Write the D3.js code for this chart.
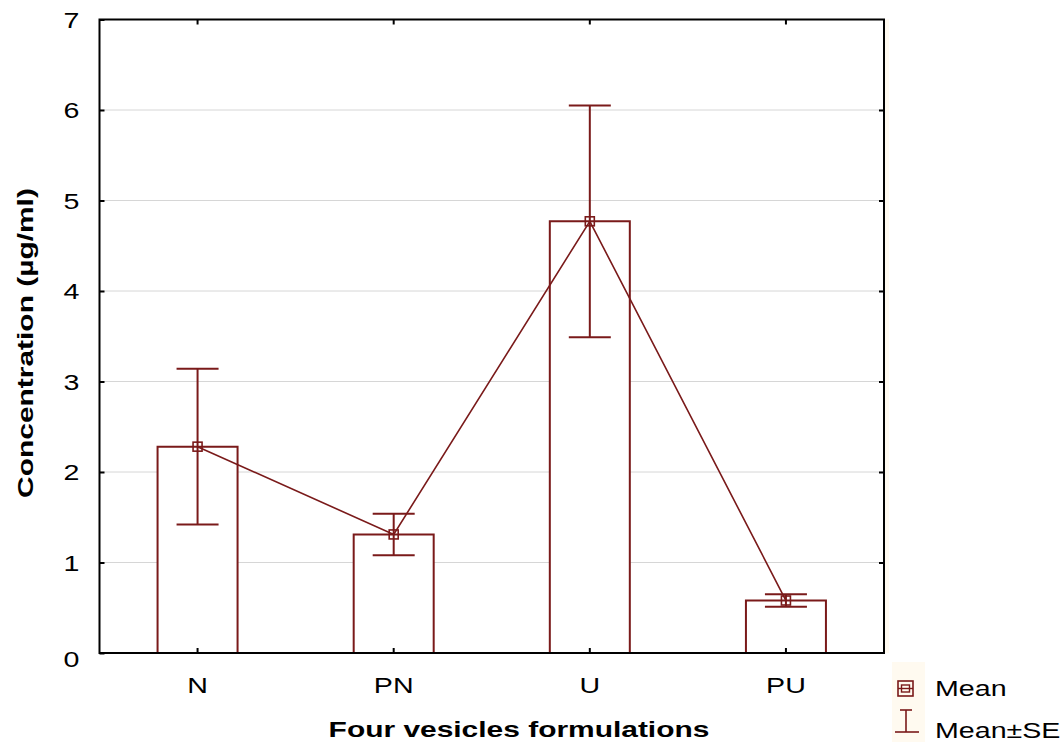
<!DOCTYPE html>
<html lang="en">
<head>
<meta charset="UTF-8">
<title>Four vesicles formulations</title>
<script src="https://d3js.org/d3.v7.min.js"></script>
<style>
  body { margin: 0; background: #fff; }
  svg text { font-family: "Liberation Sans", Arial, sans-serif; fill: #000; }
</style>
</head>
<body>
<svg id="chart" width="1064" height="742"></svg>
<script>
// data
const categories = ["N", "PN", "U", "PU"];
const means = [2.28, 1.31, 4.77, 0.58];
const se = [0.86, 0.23, 1.28, 0.07];
const yTicks = [0, 1, 2, 3, 4, 5, 6, 7];

const col = "#7a1a1a";
const svg = d3.select("#chart");
const plotL = 99.5, plotR = 884, plotT = 19.5, plotB = 653;
const fs = "22px";
const widen = 1.3; // the reference text is drawn wider than Arial

const x = d3.scaleBand().domain(categories).range([plotL, plotR]);
const y = d3.scaleLinear().domain([0, 7]).range([plotB, plotT]);
const cx = d => x(d) + x.bandwidth() / 2;
const barW = 80, capW = 42, mk = 9;

// grid
svg.append("g").selectAll("line").data(yTicks.filter(t => t > 0 && t < 7)).join("line")
  .attr("x1", plotL).attr("x2", plotR)
  .attr("y1", d => y(d)).attr("y2", d => y(d))
  .attr("stroke", "#d6d6d6").attr("stroke-width", 1);

// bars
svg.append("g").selectAll("path").data(categories).join("path")
  .attr("d", (d, i) => {
    const x0 = cx(d) - barW / 2, x1 = cx(d) + barW / 2;
    return `M${x0},${y(0)}V${y(means[i])}H${x1}V${y(0)}`;
  })
  .attr("fill", "#fff").attr("stroke", col).attr("stroke-width", 2);

// error bars
const eb = svg.append("g").attr("stroke", col).attr("stroke-width", 2).attr("fill", "none");
categories.forEach((c, i) => {
  const hi = y(means[i] + se[i]), lo = y(means[i] - se[i]);
  eb.append("line").attr("x1", cx(c)).attr("x2", cx(c)).attr("y1", hi).attr("y2", lo);
  eb.append("line").attr("x1", cx(c) - capW / 2).attr("x2", cx(c) + capW / 2).attr("y1", hi).attr("y2", hi);
  eb.append("line").attr("x1", cx(c) - capW / 2).attr("x2", cx(c) + capW / 2).attr("y1", lo).attr("y2", lo);
});

// mean line
svg.append("path")
  .datum(categories.map((c, i) => [cx(c), y(means[i])]))
  .attr("d", d3.line())
  .attr("fill", "none").attr("stroke", col).attr("stroke-width", 1.6);

// mean markers
svg.append("g").selectAll("rect").data(categories).join("rect")
  .attr("x", d => cx(d) - mk / 2)
  .attr("y", (d, i) => y(means[i]) - mk / 2)
  .attr("width", mk).attr("height", mk)
  .attr("fill", "none").attr("stroke", col).attr("stroke-width", 1.6);

// frame
svg.append("rect").attr("x", plotR + 1).attr("y", plotT).attr("width", 4).attr("height", plotB - plotT)
  .attr("fill", "#fffaf0");
svg.append("rect").attr("x", plotL).attr("y", plotT).attr("width", plotR - plotL).attr("height", plotB - plotT)
  .attr("fill", "none").attr("stroke", "#000").attr("stroke-width", 2);

// axes
const yAxis = svg.append("g").attr("transform", `translate(${plotL},0)`)
  .call(d3.axisLeft(y).tickValues(yTicks).tickFormat(d3.format("d"))
    .tickSizeInner(-5).tickSizeOuter(0).tickPadding(20));
yAxis.select(".domain").remove();
yAxis.selectAll("line").attr("stroke", "#000").attr("stroke-width", 2);
yAxis.selectAll("text").style("font-size", fs).attr("dy", "0.36em");
yAxis.selectAll(".tick").filter(d => d === 0).select("text").attr("dy", "0.6em");

const yAxisR = svg.append("g").attr("transform", `translate(${plotR},0)`)
  .call(d3.axisRight(y).tickValues(yTicks.filter(t => t > 0 && t < 7)).tickSizeInner(-5).tickSizeOuter(0).tickFormat(""));
yAxisR.select(".domain").remove();
yAxisR.selectAll("line").attr("stroke", "#000").attr("stroke-width", 2);

const xAxis = svg.append("g").attr("transform", `translate(0,${plotB})`)
  .call(d3.axisBottom(x).tickSizeInner(-5).tickSizeOuter(0).tickPadding(24));
xAxis.select(".domain").remove();
xAxis.selectAll("line").attr("stroke", "#000").attr("stroke-width", 2);
xAxis.selectAll("text").style("font-size", fs);

const xAxisT = svg.append("g").attr("transform", `translate(0,${plotT})`)
  .call(d3.axisTop(x).tickSizeInner(-5).tickSizeOuter(0).tickFormat(""));
xAxisT.select(".domain").remove();
xAxisT.selectAll("line").attr("stroke", "#000").attr("stroke-width", 2);

// titles
svg.append("text").attr("class", "title").attr("x", 519).attr("y", 737)
  .attr("text-anchor", "middle").style("font-size", fs).style("font-weight", "bold")
  .text("Four vesicles formulations");
svg.append("text").attr("class", "title").attr("transform", `translate(33,343) rotate(-90)`)
  .attr("text-anchor", "middle").style("font-size", fs).style("font-weight", "bold")
  .text("Concentration (µg/ml)");

// legend
const lg = svg.append("g");
lg.append("rect").attr("x", 892).attr("y", 662).attr("width", 33).attr("height", 80).attr("fill", "#fffaf0");
lg.append("rect").attr("x", 898).attr("y", 681).attr("width", 15).attr("height", 15)
  .attr("fill", "none").attr("stroke", col).attr("stroke-width", 1.6);
lg.append("rect").attr("x", 901.5).attr("y", 685).attr("width", 8).attr("height", 7)
  .attr("fill", "none").attr("stroke", col).attr("stroke-width", 1.4);
lg.append("line").attr("x1", 898).attr("x2", 913).attr("y1", 688.5).attr("y2", 688.5)
  .attr("stroke", col).attr("stroke-width", 1.4);
lg.append("line").attr("x1", 906).attr("x2", 906).attr("y1", 710).attr("y2", 732)
  .attr("stroke", col).attr("stroke-width", 1.6);
lg.append("line").attr("x1", 900).attr("x2", 912).attr("y1", 710).attr("y2", 710)
  .attr("stroke", col).attr("stroke-width", 1.6);
lg.append("line").attr("x1", 895).attr("x2", 919).attr("y1", 732).attr("y2", 732)
  .attr("stroke", col).attr("stroke-width", 1.6);
lg.append("text").attr("x", 935).attr("y", 696).style("font-size", fs).text("Mean");
lg.append("text").attr("x", 935).attr("y", 738).style("font-size", fs).text("Mean±SE");

// widen every label along its own direction
svg.selectAll("text").each(function () {
  const len = this.getComputedTextLength();
  const k = this.classList.contains("title") ? 1.36 : widen;
  if (len > 0) d3.select(this).attr("textLength", len * k).attr("lengthAdjust", "spacingAndGlyphs");
});
</script>
</body>
</html>
